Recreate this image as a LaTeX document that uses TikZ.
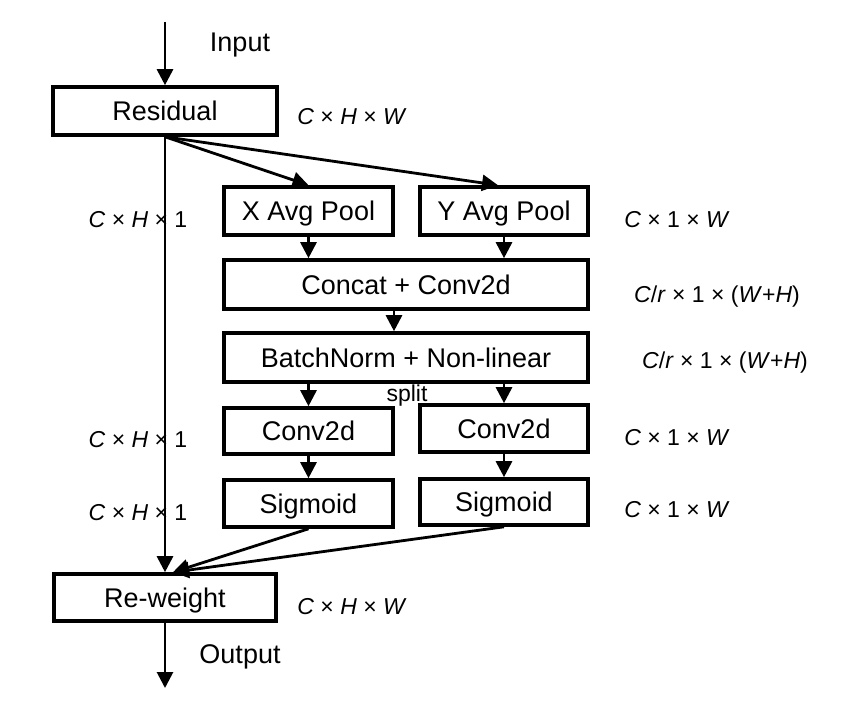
\documentclass[tikz,border=0pt]{standalone}
\usepackage{fontspec}
\setmainfont{Liberation Sans}
\usetikzlibrary{arrows.meta, positioning}
\tikzstyle{block} = [rectangle, draw=black, line width=3.6pt, fill=white, inner sep=0pt, text height=19.5pt, text depth=0pt, font=\fontsize{27}{32}\selectfont]
\tikzstyle{dim} = [inner sep=0pt, font=\fontsize{23}{28}\selectfont]
\tikzstyle{link} = [line width=2.8pt, -{Triangle[length=16pt, width=16pt]}]

\begin{document}
\begin{tikzpicture}[x=1pt, y=-1pt]
\useasboundingbox (0,0) rectangle (846,701);
\node (res) [block, minimum width=224pt, minimum height=48pt] at (165,111) {Residual};
\node (xpool) [block, minimum width=169pt, minimum height=48pt] at (308.5,211) {X Avg Pool};
\node (ypool) [block, minimum width=168pt, minimum height=48pt] at (504,211) {Y Avg Pool};
\node (concat) [block, minimum width=364pt, minimum height=49pt] at (406,284.5) {Concat + Conv2d};
\node (bn) [block, minimum width=364pt, minimum height=49pt] at (406,357.5) {BatchNorm + Non-linear};
\node (convx) [block, minimum width=169pt, minimum height=46pt] at (308.5,431) {Conv2d};
\node (convy) [block, minimum width=168pt, minimum height=47pt] at (504,428.5) {Conv2d};
\node (sigx) [block, minimum width=169pt, minimum height=47pt] at (308.5,503.5) {Sigmoid};
\node (sigy) [block, minimum width=168pt, minimum height=46pt] at (504,502) {Sigmoid};
\node (rew) [block, minimum width=222pt, minimum height=47pt] at (165,597.5) {Re-weight};
\coordinate (in) at (165,22);
\coordinate (out) at (165,688);
% texts
\node (tin) [dim, font=\fontsize{27}{32}\selectfont] at (240,45) {Input};
\node (tout) [dim, font=\fontsize{27}{32}\selectfont] at (240,657) {Output};
\node (split) [dim] at (407,396) {split};
\node (dres) [dim] at (352,117) {\textit{C} × \textit{H} × \textit{W}};
\node (drew) [dim] at (352,607) {\textit{C} × \textit{H} × \textit{W}};
\node (dx1) [dim] at (138,220) {\textit{C} × \textit{H} × 1};
\node (dx2) [dim] at (138,440) {\textit{C} × \textit{H} × 1};
\node (dx3) [dim] at (138,513) {\textit{C} × \textit{H} × 1};
\node (dy1) [dim] at (677,220) {\textit{C} × 1 × \textit{W}};
\node (dy2) [dim] at (677,438) {\textit{C} × 1 × \textit{W}};
\node (dy3) [dim] at (677,510) {\textit{C} × 1 × \textit{W}};
\node (dcat) [dim] at (717,297) {\textit{C}/\textit{r} × 1 × (\textit{W}+\textit{H})};
\node (dbn) [dim] at (725,363) {\textit{C}/\textit{r} × 1 × (\textit{W}+\textit{H})};
% arrows
\draw[link] (in) -- (res.north);
\draw[link] (res.south) -- (xpool.north);
\draw[link] (res.south) -- ([xshift=-6pt]ypool.north);
\draw[link] (res.south) -- (rew.north);
\draw[link] (xpool.south) -- (xpool.south |- concat.north);
\draw[link] (ypool.south) -- (ypool.south |- concat.north);
\draw[link] ([xshift=-12pt]concat.south) -- ([xshift=-12pt]bn.north);
\draw[link] (convx.north |- bn.south) -- (convx.north);
\draw[link] (convy.north |- bn.south) -- (convy.north);
\draw[link] (convx.south) -- (sigx.north);
\draw[link] (convy.south) -- (sigy.north);
\draw[link] (sigx.south) -- ([xshift=8pt]rew.north);
\draw[link] (sigy.south) -- ([xshift=8pt]rew.north);
\draw[link] (rew.south) -- (out);
\end{tikzpicture}
\end{document}
